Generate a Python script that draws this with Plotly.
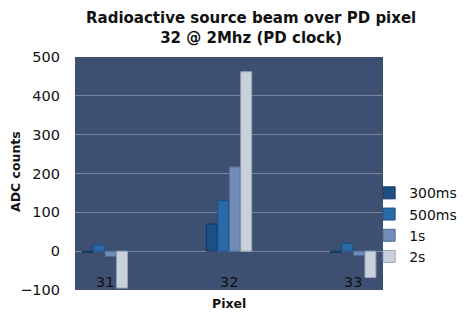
import plotly.graph_objects as go

pixels = [31, 32, 33]
series_names = ["300ms", "500ms", "1s", "2s"]
v_300ms = [-3, 70, -3]
v_500ms = [16, 130, 20]
v_1s = [-14, 217, -11]
v_2s = [-95, 462, -68]
values = [v_300ms, v_500ms, v_1s, v_2s]
colors = ["#1d4f80", "#2b6aa9", "#6f8db6", "#c9d1dc"]
line_colors = ["#0f3560", "#1a4f85", "#4e6c95", "#9aa4b2"]
y_ticks = [-100, 0, 100, 200, 300, 400, 500]
title_lines = ["Radioactive source beam over PD pixel", "32 @ 2Mhz (PD clock)"]
x_title = "Pixel"
y_title = "ADC counts"

FONT = "DejaVu Sans, Verdana, sans-serif"

fig = go.Figure()
for name, vals, c, lc in zip(series_names, values, colors, line_colors):
    fig.add_trace(go.Bar(
        x=pixels, y=vals, name=name,
        marker=dict(color=c, line=dict(color=lc, width=1)),
    ))

for p in pixels:
    fig.add_annotation(x=p, y=-80, xref="x", yref="y", text=str(p),
                       showarrow=False, font=dict(size=14.5, color="#111111"))

# plot area spans page pixels 57..290 vertically, 75..383 horizontally
fig.add_annotation(
    x=0.57, y=(290 - 28) / 233, xref="paper", yref="paper",
    xanchor="center", yanchor="middle", showarrow=False, borderpad=0,
    text="<b>" + "<br>".join(title_lines) + "</b>",
    font=dict(size=15, color="#111111"),
)
fig.add_annotation(
    x=0.5, y=(290 - 303) / 233, xref="paper", yref="paper",
    xanchor="center", yanchor="middle", showarrow=False,
    text="<b>" + x_title + "</b>", font=dict(size=12.5, color="#111111"),
)
fig.add_annotation(
    x=(15 - 75) / 308, y=(290 - 172) / 233, xref="paper", yref="paper",
    xanchor="center", yanchor="middle", showarrow=False, textangle=-90,
    text="<b>" + y_title + "</b>", font=dict(size=12.5, color="#111111"),
)

fig.update_layout(
    width=461, height=306,
    margin=dict(l=67, r=86, t=49, b=24, autoexpand=False),
    paper_bgcolor="white",
    plot_bgcolor="#3e5072",
    font=dict(family=FONT, color="#111111"),
    barmode="group",
    bargap=0.63,
    bargroupgap=0.05,
    showlegend=True,
    legend=dict(
        x=0.955, xanchor="left", y=0.28, yanchor="middle",
        font=dict(size=14, color="#111111"),
        itemwidth=30, tracegroupgap=0,
        bgcolor="rgba(0,0,0,0)",
    ),
    xaxis=dict(
        range=[30.76, 33.24], automargin=False,
        showticklabels=False, showgrid=False, zeroline=False,
    ),
    yaxis=dict(
        range=[-100, 500], automargin=False,
        tickvals=y_ticks,
        tickfont=dict(size=14.5),
        ticklabelstandoff=14,
        gridcolor="#74839f", gridwidth=1,
        zeroline=False,
    ),
)

fig.write_html("out.html")
